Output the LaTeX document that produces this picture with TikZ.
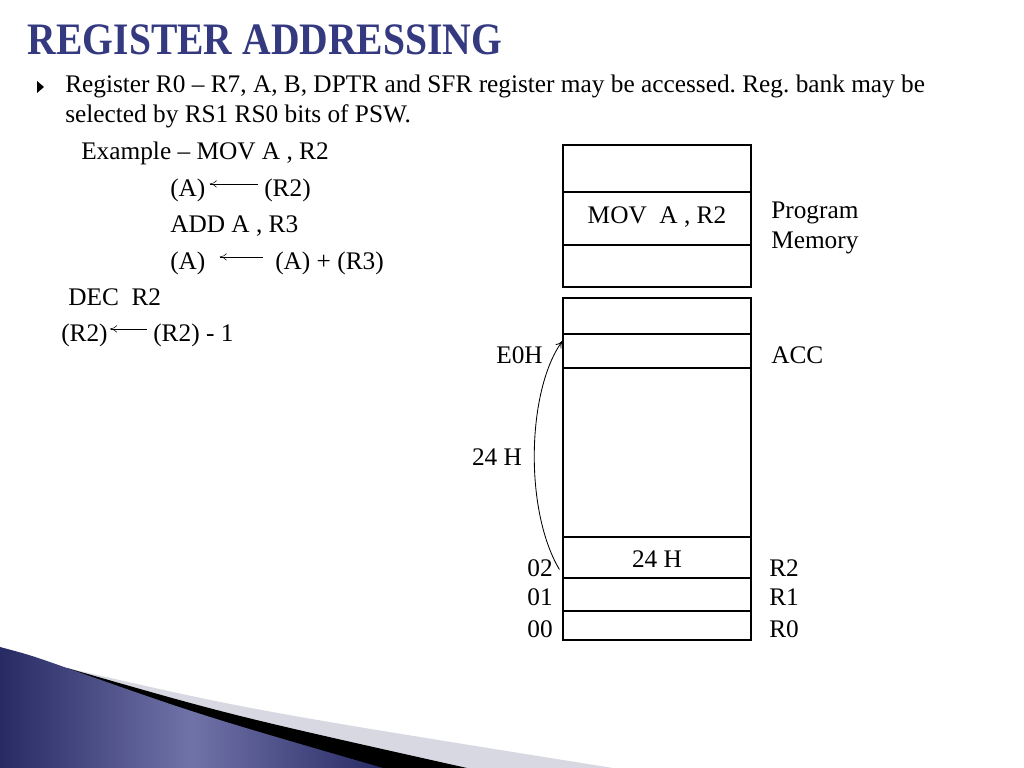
\documentclass[tikz,border=0pt]{standalone}
\usepackage{fontspec}
\setmainfont{Liberation Serif}
\usetikzlibrary{arrows.meta,calc}
\frenchspacing

\definecolor{navy}{RGB}{40,42,100}
\definecolor{navylight}{RGB}{112,115,168}
\definecolor{titleblue}{RGB}{52,57,128}
\definecolor{swooshgray}{RGB}{216,216,226}

\tikzset{
  txt/.style={anchor=base west, inner sep=0pt, font=\fontsize{18}{20}\selectfont},
  cell/.style={draw, line width=0.8pt, minimum width=4.7cm, inner sep=0pt},
}

\begin{document}
\begin{tikzpicture}[x=0.025cm, y=-0.025cm, >={To[length=5pt,width=5pt]}]
  \useasboundingbox[fill=white] (0,0) rectangle (1024,768);

  % swoosh at the bottom left
  \fill[swooshgray] (67,668) .. controls (250,710) .. (613,768) -- (0,768) -- cycle;
  \fill[black] (67,668) .. controls (230,715) .. (467,768) -- (0,768) -- cycle;
  \shade[left color=navy, right color=navy, middle color=navylight]
    (0,647) .. controls (30,655) .. (67,668) .. controls (200,715) .. (383,768) -- (0,768) -- cycle;

  % title
  \node[titleblue, font=\fontsize{32}{34}\bfseries\selectfont, xscale=0.88,
        preaction={draw=none}] (title) at (265,40) {REGISTER ADDRESSING};

  % text
  \fill (37,81) -- (44,87) -- (37,93) -- cycle;
  \node[txt] (l1) at (65,93) {Register R0 -- R7, A, B, DPTR and SFR register may be accessed. Reg. bank may be};
  \node[txt] (l2) at (65,123) {selected by RS1 RS0 bits of PSW.};
  \node[txt] (ex) at (81,160) {Example -- MOV A , R2};
  \node[txt] (a1) at (170,196) {(A)};
  \node[txt] (r2a) at (264,196) {(R2)};
  \node[txt] (add) at (170,232) {ADD A , R3};
  \node[txt] (a2) at (170,269) {(A)};
  \node[txt] (sum) at (275,269) {(A) + (R3)};
  \node[txt] (dec) at (68,305) {DEC\ \ R2};
  \node[txt] (r2b) at (61,341) {(R2)};
  \node[txt] (r2c) at (153,341) {(R2) - 1};

  \draw[<-] ($(a1.east)+(4,-6)$) -- ($(r2a.west)+(-6,-6)$);
  \draw[<-] ($(a2.east)+(14,-6)$) -- ($(sum.west)+(-12,-6)$);
  \draw[<-] ($(r2b.east)+(2,-6)$) -- ($(r2c.west)+(-6,-6)$);

  % program memory
  \node[cell, minimum height=1.175cm] (pm1) at (657,168.5) {};
  \node[cell, minimum height=1.325cm] (pm2) at (657,218.5) {};
  \node[cell, minimum height=1.05cm] (pm3) at (657,266) {};
  \node[txt, anchor=base] (mov) at (657,223) {MOV\ \ A , R2};
  \node[txt] (prog) at (771,218) {Program};
  \node[txt] (mem) at (771,248) {Memory};

  % internal RAM
  \node[cell, minimum height=0.9cm] (ram1) at (657,316) {};
  \node[cell, minimum height=0.85cm] (acc) at (657,351) {};
  \node[cell, minimum height=4.225cm] (ram2) at (657,452.5) {};
  \node[cell, minimum height=1.025cm] (reg2) at (657,557.5) {};
  \node[cell, minimum height=0.825cm] (reg1) at (657,594.5) {};
  \node[cell, minimum height=0.725cm] (reg0) at (657,625.5) {};

  \node[txt, anchor=base east] (e0h) at (543,363) {E0H};
  \node[txt] (accl) at (771,363) {ACC};
  \node[txt, anchor=base] (val) at (657,567) {24 H};
  \node[txt, anchor=base] (jump) at (497,465) {24 H};
  \node[txt, anchor=base east] (a02) at (553,576) {02};
  \node[txt, anchor=base east] (a01) at (553,605) {01};
  \node[txt, anchor=base east] (a00) at (553,637) {00};
  \node[txt] (nr2) at (769,576) {R2};
  \node[txt] (nr1) at (769,605) {R1};
  \node[txt] (nr0) at (769,637) {R0};

  \coordinate (from) at ($(reg2.west)+(-3,12)$);
  \coordinate (to) at ($(acc.west)+(0,-10)$);
  \draw[->, line width=0.6pt] (from) .. controls (524,510) and (527,390) .. (to);
\end{tikzpicture}
\end{document}
